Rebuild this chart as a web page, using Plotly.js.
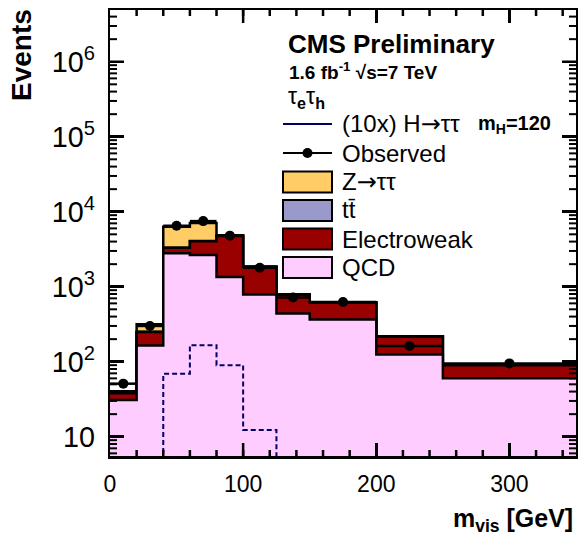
<!DOCTYPE html>
<html>
<head>
<meta charset="utf-8">
<script src="https://cdn.plot.ly/plotly-3.0.1.min.js"></script>
<style>html,body{margin:0;padding:0;background:#fff;}#chart{width:578px;height:543px;}</style>
</head>
<body>
<div id="chart"></div>
<script>
// Bin edges of m_vis [GeV]
const binEdges = [0, 20, 40, 60, 80, 100, 125, 150, 200, 250, 350];
// Background stack (events per bin)
const qcd         = [31, 165, 2800, 2650, 1350, 790, 440, 365, 125, 60];
const electroweak = [7, 85, 500, 1400, 3400, 1040, 340, 245, 90, 30];
const ttbar       = [0.5, 2, 10, 15, 20, 15, 10, 8, 3, 2];
const ztautau     = [2, 65, 3000, 3000, 100, 20, 5, 3, 1, 0.5];
// Observed data
const observed    = [51, 300, 6500, 7500, 4800, 1790, 720, 625, 162, 95];
// (10x) H->tautau signal, m_H = 120
const signal10x   = [1, 1, 69, 166, 90, 12.3, 1, 1, 1, 1];
// decades of the log axis (10^0 .. 10^6)
const yDecades    = [0, 1, 2, 3, 4, 5, 6];
// major x tick values
const xMajor      = [100, 200, 300];

const FONT = '"Liberation Sans", Arial, Helvetica, sans-serif';
const ARROW = '<span style="font-family:DejaVu Sans">→</span>';

const nb = qcd.length;
const centers = [], halfW = [];
for (let i = 0; i < nb; i++) {
  centers.push((binEdges[i] + binEdges[i + 1]) / 2);
  halfW.push((binEdges[i + 1] - binEdges[i]) / 2);
}
function cum(arrs) {
  const out = [];
  for (let i = 0; i < nb; i++) { let s = 0; arrs.forEach(a => s += a[i]); out.push(s); }
  return out;
}
function stepY(vals) { return vals.concat([vals[vals.length - 1]]); }

const lvlQCD = cum([qcd]);
const lvlEW = cum([qcd, electroweak]);
const lvlTT = cum([qcd, electroweak, ttbar]);
const lvlZ = cum([qcd, electroweak, ttbar, ztautau]);

function stackTrace(name, vals, color) {
  return {
    type: 'scatter', mode: 'lines', name: name,
    x: binEdges, y: stepY(vals),
    line: {shape: 'hv', color: '#000', width: 2.5},
    fill: 'tozeroy', fillcolor: color,
    hoverinfo: 'skip', showlegend: false
  };
}

const data = [
  stackTrace('Z→ττ', lvlZ, '#FFCC66'),
  stackTrace('tt̄', lvlTT, '#9999CC'),
  stackTrace('Electroweak', lvlEW, '#990000'),
  stackTrace('QCD', lvlQCD, '#FFCCFF'),
  {
    type: 'scatter', mode: 'lines', name: '(10x) H→ττ',
    x: binEdges, y: stepY(signal10x),
    line: {shape: 'hv', color: '#000066', width: 2, dash: '5px,3px'},
    showlegend: false
  },
  {
    type: 'scatter', mode: 'markers', name: 'Observed',
    x: centers, y: observed,
    marker: {color: '#000', size: 10},
    error_x: {type: 'data', array: halfW, symmetric: true, width: 0, thickness: 2.5, color: '#000'},
    showlegend: false
  }
];

const Y_RANGE = [0.743, 6.69];
const X_RANGE = [0, 350];

// pixel -> paper helpers for the hand-made legend / titles
const PL = 110, PR = 576, PT = 10, PB = 456;
const px = x => (x - PL) / (PR - PL);
const py = y => (PB - y) / (PB - PT);

const annotations = [];
function txt(text, x, y, size, anchor) {
  annotations.push({text: text, xref: 'paper', yref: 'paper', x: px(x), y: py(y),
    xanchor: anchor || 'left', yanchor: 'middle', showarrow: false,
    font: {family: FONT, size: size, color: '#000'}});
}
txt('<b>CMS Preliminary</b>', 286, 44, 26);
txt('<b>1.6 fb<sup>-1</sup> √s=7 TeV</b>', 287, 71, 19);
txt('τ<sub><b>e</b></sub>τ<sub><b>h</b></sub>', 286, 97, 23);
txt('(10x) H' + ARROW + 'ττ', 340, 124, 24);
txt('<b>m<sub>H</sub>=120</b>', 476, 125, 20);
txt('Observed', 340, 153, 24);
txt('Z' + ARROW + 'ττ', 340, 182, 24);
txt('tt\u0304', 340, 210, 24);
txt('Electroweak', 340, 239, 24);
txt('QCD', 340, 267, 24);
annotations.push({text: '<b>m<sub>vis</sub> [GeV]</b>', xref: 'paper', yref: 'paper',
  x: px(575), y: py(520), xanchor: 'right', yanchor: 'middle', showarrow: false,
  font: {family: FONT, size: 25, color: '#000'}});
annotations.push({text: '<b>Events</b>', xref: 'paper', yref: 'paper', textangle: -90,
  x: px(21), y: py(7), xanchor: 'center', yanchor: 'top', showarrow: false,
  font: {family: FONT, size: 28, color: '#000'}});

const shapes = [];
function box(yc, color) {
  shapes.push({type: 'rect', xref: 'paper', yref: 'paper', x0: px(283), x1: px(332),
    y0: py(yc + 10.5), y1: py(yc - 10.5), fillcolor: color, line: {color: '#000', width: 2}});
}
shapes.push({type: 'line', xref: 'paper', yref: 'paper', x0: px(283), x1: px(332), y0: py(124), y1: py(124),
  line: {color: '#000066', width: 2}});
shapes.push({type: 'line', xref: 'paper', yref: 'paper', x0: px(283), x1: px(332), y0: py(153), y1: py(153),
  line: {color: '#000', width: 2}});
shapes.push({type: 'circle', xref: 'paper', yref: 'paper', x0: px(302.5), x1: px(312.5), y0: py(158), y1: py(148),
  fillcolor: '#000', line: {color: '#000', width: 0}});
box(182, '#FFCC66');
box(210.5, '#9999CC');
box(239, '#990000');
box(267.5, '#FFCCFF');

// axis ticks (inside, on all four sides), placed on the axis scales
function yTick(v, lenPx, w) {
  const L = lenPx / (PR - PL);
  [[0, L], [1 - L, 1]].forEach(([a, b]) => {
    shapes.push({type: 'line', layer: 'above', xref: 'paper', yref: 'y', x0: a, x1: b, y0: v, y1: v,
      line: {color: '#000', width: w}});
  });
}
function xTick(v, lenPx, w) {
  const L = lenPx / (PB - PT);
  [[0, L], [1 - L, 1]].forEach(([a, b]) => {
    shapes.push({type: 'line', layer: 'above', xref: 'x', yref: 'paper', x0: v, x1: v, y0: a, y1: b,
      line: {color: '#000', width: w}});
  });
}
yDecades.forEach(n => {
  const major = Math.pow(10, n);
  if (n > Y_RANGE[0] && n < Y_RANGE[1]) yTick(major, 14, 2.5);
  for (let k = 2; k <= 9; k++) {
    const v = k * major, lv = Math.log10(v);
    if (lv > Y_RANGE[0] && lv < Y_RANGE[1]) yTick(v, 7, 2);
  }
});
for (let v = 20; v < X_RANGE[1]; v += 20) xTick(v, 6, 2.5);
xMajor.forEach(v => xTick(v, 13, 2.5));

const layout = {
  width: 578, height: 543,
  margin: {l: PL, r: 578 - PR, t: PT, b: 543 - PB, pad: 0},
  paper_bgcolor: '#fff', plot_bgcolor: '#fff',
  showlegend: false,
  font: {family: FONT, color: '#000'},
  xaxis: {
    range: X_RANGE, tick0: 0, dtick: 100, ticks: 'inside', ticklen: 13, tickwidth: 2.5,
    tickcolor: '#000', showline: true, linecolor: '#000', linewidth: 2.5, mirror: 'allticks',
    showgrid: false, zeroline: false, tickfont: {size: 23, family: FONT},
    ticklabelstandoff: 6
  },
  yaxis: {
    type: 'log', range: Y_RANGE, dtick: 1, exponentformat: 'power',
    ticks: 'inside', ticklen: 14, tickwidth: 2.5, tickcolor: '#000',
    showline: true, linecolor: '#000', linewidth: 2.5, mirror: 'allticks',
    showgrid: false, zeroline: false, tickfont: {size: 23, family: FONT},
    ticklabelstandoff: 8
  },
  annotations: annotations,
  shapes: shapes
};

Plotly.newPlot('chart', data, layout, {displayModeBar: false, staticPlot: true});
</script>
</body>
</html>
